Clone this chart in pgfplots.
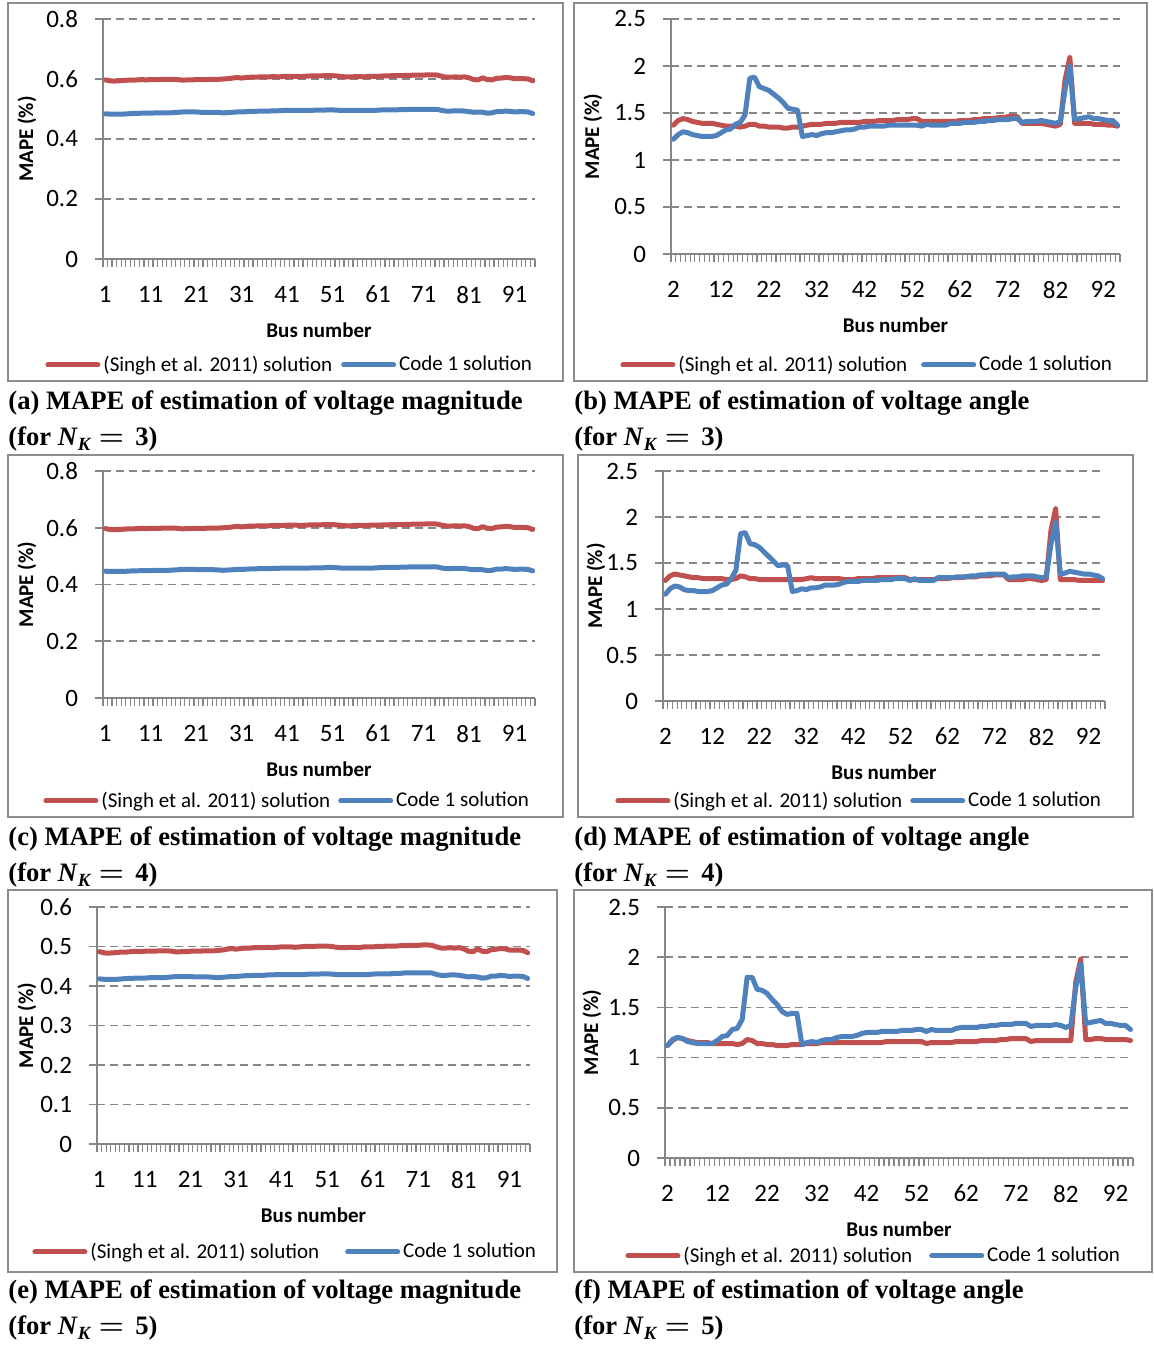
\documentclass[border=0pt]{standalone}
\usepackage{fontspec}
\setmainfont{Carlito}
\newfontfamily\capfont{Liberation Serif}
\usepackage{pgfplots}
\usepackage{pgfplotstable}
\pgfplotsset{compat=1.18}
\definecolor{sred}{RGB}{192,80,77}
\definecolor{sblue}{RGB}{79,129,189}
\definecolor{axgray}{RGB}{134,134,134}
\definecolor{framegray}{RGB}{140,140,140}

\pgfplotstableread{
bus ar ab cb er eb
1 .597 .484 .447 .487 .418
2 .594 .483 .446 .484 .417
3 .593 .483 .446 .483 .417
4 .594 .483 .446 .484 .417
5 .595 .483 .446 .485 .417
6 .596 .484 .447 .486 .418
7 .596 .485 .448 .486 .419
8 .597 .485 .448 .487 .419
9 .598 .486 .449 .488 .420
10 .597 .486 .449 .487 .420
11 .598 .486 .449 .488 .420
12 .598 .487 .450 .488 .421
13 .598 .487 .450 .488 .421
14 .599 .487 .450 .489 .421
15 .599 .487 .450 .489 .421
16 .599 .488 .451 .489 .422
17 .598 .489 .452 .488 .423
18 .596 .490 .453 .486 .424
19 .597 .490 .453 .487 .424
20 .597 .490 .453 .487 .424
21 .598 .490 .453 .488 .424
22 .598 .489 .452 .488 .423
23 .598 .489 .452 .488 .423
24 .599 .489 .452 .489 .423
25 .599 .489 .452 .489 .423
26 .599 .488 .451 .489 .422
27 .600 .487 .450 .490 .421
28 .601 .488 .451 .491 .422
29 .603 .489 .452 .493 .423
30 .605 .490 .453 .495 .424
31 .603 .490 .453 .493 .424
32 .605 .491 .454 .495 .425
33 .606 .492 .455 .496 .426
34 .606 .492 .455 .496 .426
35 .607 .493 .456 .497 .427
36 .607 .493 .456 .497 .427
37 .607 .493 .456 .497 .427
38 .608 .494 .457 .498 .428
39 .607 .494 .457 .497 .428
40 .608 .495 .458 .498 .429
41 .609 .495 .458 .499 .429
42 .609 .495 .458 .499 .429
43 .609 .495 .458 .499 .429
44 .608 .495 .458 .498 .429
45 .609 .495 .458 .499 .429
46 .610 .495 .458 .500 .429
47 .610 .496 .459 .500 .430
48 .610 .496 .459 .500 .430
49 .611 .496 .459 .501 .430
50 .611 .497 .460 .501 .431
51 .611 .497 .460 .501 .431
52 .610 .496 .459 .500 .430
53 .608 .495 .458 .498 .429
54 .607 .495 .458 .497 .429
55 .607 .495 .458 .497 .429
56 .608 .495 .458 .498 .429
57 .608 .495 .458 .498 .429
58 .607 .495 .458 .497 .429
59 .609 .495 .458 .499 .429
60 .609 .495 .458 .499 .429
61 .609 .496 .459 .499 .430
62 .610 .497 .460 .500 .431
63 .610 .497 .460 .500 .431
64 .611 .497 .460 .501 .431
65 .611 .497 .460 .501 .431
66 .611 .498 .461 .501 .432
67 .612 .498 .461 .502 .432
68 .612 .499 .462 .502 .433
69 .613 .499 .462 .503 .433
70 .613 .499 .462 .503 .433
71 .613 .499 .462 .503 .433
72 .614 .499 .462 .504 .433
73 .614 .499 .462 .504 .433
74 .613 .499 .462 .503 .433
75 .609 .495 .458 .499 .429
76 .606 .493 .456 .496 .427
77 .606 .493 .456 .496 .427
78 .607 .494 .457 .497 .428
79 .606 .494 .457 .496 .428
80 .607 .493 .456 .497 .427
81 .604 .491 .454 .494 .425
82 .598 .489 .452 .488 .423
83 .597 .490 .453 .487 .424
84 .604 .489 .452 .494 .423
85 .598 .486 .449 .488 .420
86 .597 .487 .450 .487 .421
87 .602 .491 .454 .492 .425
88 .603 .491 .454 .493 .425
89 .605 .493 .456 .495 .427
90 .604 .492 .455 .494 .426
91 .601 .490 .453 .491 .424
92 .601 .491 .454 .491 .425
93 .601 .491 .454 .491 .425
94 .600 .490 .453 .490 .424
95 .594 .485 .448 .484 .419
}\magtab

\pgfplotstableread{
bus br bb dr db fr fb
2 1.37 1.22 1.31 1.16 1.12 1.12
3 1.42 1.27 1.36 1.22 1.17 1.18
4 1.44 1.30 1.38 1.25 1.20 1.20
5 1.43 1.29 1.37 1.24 1.19 1.19
6 1.41 1.27 1.36 1.21 1.17 1.16
7 1.40 1.26 1.35 1.20 1.16 1.15
8 1.39 1.25 1.34 1.20 1.15 1.14
9 1.39 1.25 1.34 1.19 1.15 1.14
10 1.39 1.25 1.33 1.19 1.15 1.14
11 1.38 1.26 1.33 1.19 1.14 1.14
12 1.37 1.29 1.33 1.20 1.14 1.17
13 1.36 1.32 1.33 1.23 1.14 1.21
14 1.36 1.33 1.33 1.26 1.14 1.22
15 1.36 1.38 1.32 1.27 1.14 1.28
16 1.35 1.40 1.32 1.33 1.13 1.29
17 1.36 1.48 1.33 1.42 1.14 1.38
18 1.38 1.87 1.36 1.82 1.18 1.80
19 1.38 1.88 1.35 1.83 1.17 1.80
20 1.36 1.78 1.33 1.71 1.14 1.68
21 1.36 1.76 1.33 1.70 1.14 1.67
22 1.35 1.74 1.32 1.67 1.13 1.64
23 1.35 1.70 1.32 1.62 1.13 1.58
24 1.35 1.66 1.32 1.57 1.12 1.53
25 1.34 1.61 1.32 1.52 1.12 1.46
26 1.34 1.55 1.32 1.47 1.12 1.43
27 1.35 1.54 1.32 1.48 1.13 1.44
28 1.35 1.53 1.32 1.47 1.13 1.44
29 1.36 1.25 1.32 1.19 1.13 1.13
30 1.37 1.26 1.32 1.20 1.14 1.15
31 1.38 1.27 1.32 1.22 1.14 1.16
32 1.38 1.26 1.33 1.21 1.14 1.15
33 1.38 1.28 1.34 1.23 1.15 1.17
34 1.39 1.29 1.33 1.23 1.15 1.18
35 1.39 1.29 1.33 1.24 1.15 1.18
36 1.39 1.30 1.33 1.26 1.15 1.20
37 1.40 1.31 1.33 1.26 1.15 1.21
38 1.40 1.32 1.33 1.26 1.15 1.21
39 1.40 1.32 1.33 1.27 1.15 1.21
40 1.40 1.33 1.32 1.29 1.15 1.22
41 1.40 1.35 1.32 1.30 1.15 1.24
42 1.41 1.35 1.32 1.30 1.15 1.25
43 1.41 1.36 1.33 1.30 1.15 1.25
44 1.41 1.36 1.33 1.31 1.15 1.25
45 1.42 1.36 1.33 1.31 1.15 1.26
46 1.42 1.36 1.33 1.31 1.16 1.26
47 1.42 1.37 1.34 1.31 1.16 1.26
48 1.42 1.37 1.34 1.32 1.16 1.26
49 1.43 1.37 1.34 1.32 1.16 1.27
50 1.43 1.37 1.34 1.32 1.16 1.27
51 1.43 1.37 1.34 1.33 1.16 1.27
52 1.44 1.37 1.34 1.33 1.16 1.28
53 1.44 1.37 1.34 1.33 1.16 1.28
54 1.41 1.36 1.32 1.31 1.14 1.26
55 1.41 1.38 1.32 1.33 1.15 1.28
56 1.41 1.37 1.32 1.31 1.15 1.27
57 1.41 1.37 1.32 1.31 1.15 1.27
58 1.41 1.37 1.32 1.31 1.15 1.27
59 1.41 1.37 1.32 1.31 1.15 1.27
60 1.41 1.39 1.33 1.34 1.16 1.29
61 1.41 1.39 1.33 1.34 1.16 1.30
62 1.42 1.39 1.33 1.34 1.16 1.30
63 1.42 1.40 1.34 1.34 1.16 1.30
64 1.42 1.40 1.34 1.35 1.16 1.30
65 1.43 1.40 1.34 1.35 1.17 1.31
66 1.43 1.41 1.35 1.35 1.17 1.31
67 1.44 1.41 1.35 1.36 1.17 1.32
68 1.44 1.42 1.35 1.36 1.17 1.32
69 1.44 1.42 1.36 1.37 1.18 1.33
70 1.45 1.43 1.36 1.37 1.18 1.33
71 1.45 1.43 1.36 1.38 1.19 1.33
72 1.46 1.43 1.37 1.38 1.19 1.34
73 1.46 1.44 1.37 1.38 1.19 1.34
74 1.46 1.44 1.37 1.38 1.19 1.34
75 1.39 1.40 1.32 1.34 1.16 1.31
76 1.39 1.41 1.32 1.35 1.17 1.32
77 1.39 1.41 1.32 1.35 1.17 1.32
78 1.39 1.41 1.32 1.36 1.17 1.32
79 1.39 1.42 1.33 1.36 1.17 1.32
80 1.38 1.41 1.33 1.36 1.17 1.33
81 1.37 1.40 1.32 1.35 1.17 1.32
82 1.36 1.39 1.31 1.34 1.17 1.30
83 1.38 1.41 1.32 1.35 1.17 1.32
84 1.85 1.75 1.85 1.70 1.75 1.70
85 2.09 2.00 2.09 1.95 1.98 1.93
86 1.39 1.43 1.32 1.38 1.18 1.34
87 1.39 1.44 1.32 1.39 1.18 1.35
88 1.39 1.45 1.32 1.41 1.19 1.36
89 1.39 1.46 1.32 1.40 1.19 1.37
90 1.38 1.44 1.31 1.39 1.18 1.34
91 1.38 1.44 1.31 1.38 1.18 1.34
92 1.38 1.43 1.31 1.38 1.18 1.33
93 1.37 1.42 1.31 1.37 1.18 1.32
94 1.37 1.42 1.31 1.36 1.18 1.32
95 1.36 1.37 1.31 1.33 1.17 1.28
}\angtab

\pgfplotsset{
  panel/.style={
    scale only axis,
    axis lines*=left,
    axis line style={draw=axgray, line width=1pt},
    ymajorgrids,
    major grid style={draw=axgray, line width=0.8pt, dash pattern=on 4pt off 2.5pt},
    tick align=outside,
    major tick length=4pt,
    minor tick length=4pt,
    major x tick style={draw=none},
    minor x tick style={draw=axgray, line width=0.6pt},
    major y tick style={draw=axgray, line width=0.8pt},
    /pgf/number format/assume math mode=true,
    tick label style={font=\fontsize{12.5}{14}\selectfont},
    xticklabel style={yshift=-6pt},
    yticklabel style={xshift=-5pt, /pgf/number format/fixed},
    xlabel={Bus number}, ylabel={MAPE (\%)},
    every axis x label/.style={at={(rel axis cs:0.5,0)}, yshift=-35.5pt, anchor=center,
      font=\bfseries\fontsize{10.5}{12}\selectfont},
    scaled y ticks=false,
    legend columns=2,
    legend style={draw=none, fill=none, at={(rel axis cs:0,0)}, anchor=west,
      font=\fontsize{10.5}{12}\selectfont, inner sep=0pt,
      nodes={inner xsep=1pt},
      /tikz/every odd column/.append style={column sep=0.5pt}},
    legend image code/.code={\draw[#1, line width=2.5pt, line cap=round] (1.25pt,0pt) -- (26.25pt,0pt);},
    every axis plot/.append style={line width=2.5pt, line join=round, line cap=round, mark=none},
  },
  ylab/.style={every axis y label/.style={at={(rel axis cs:0,0.5)}, xshift=-#1, rotate=90, anchor=center,
      font=\bfseries\fontsize{10.5}{12}\selectfont}},
  leg/.style n args={3}{legend style={xshift=#1, yshift=#2, /tikz/every even column/.append style={column sep=#3}}},
  mag/.style={xmin=0.5, xmax=95.5, xtick={1,11,...,91}, minor xtick={0.5,1.5,...,95.5}},
  ang/.style={xmin=1.5, xmax=95.5, xtick={2,12,...,92}, minor xtick={1.5,2.5,...,95.5}, ymin=0, ymax=2.5, ytick={0,0.5,1,1.5,2,2.5}},
}

\newcommand{\capt}[4]{%
  \node[anchor=base west, inner sep=0pt, font=\capfont\bfseries\fontsize{13.3}{16}\selectfont] at (#1,#2) {#3};
  \node[anchor=base west, inner sep=0pt, font=\capfont\bfseries\fontsize{13.3}{16}\selectfont] at (#1,{#2-18pt}) {(for \textit{N}\textsubscript{\textit{K}}\ {\boldmath$=$}\ \,#4)};
}

\begin{document}
\begin{tikzpicture}
\path[use as bounding box] (0,0) rectangle (577pt,673.5pt);
% frames
\draw[framegray, line width=1pt] (4pt,483pt) rectangle (281.5pt,672pt);
\draw[framegray, line width=1pt] (287pt,483pt) rectangle (573.5pt,672pt);
\draw[framegray, line width=1pt] (4pt,265pt) rectangle (281.5pt,446pt);
\draw[framegray, line width=1pt] (289pt,265pt) rectangle (566.5pt,446pt);
\draw[framegray, line width=1pt] (4pt,37.5pt) rectangle (278.5pt,228.5pt);
\draw[framegray, line width=1pt] (287pt,37.5pt) rectangle (576pt,228.5pt);

% (a)
\begin{axis}[panel, mag, ylab=38pt, leg={-29pt}{-53pt}{3.5pt},
  at={(51.5pt,544pt)}, anchor=south west, width=216pt, height=120pt,
  ymin=0, ymax=0.8, ytick={0,0.2,0.4,0.6,0.8}]
\addplot[sred] table[x=bus,y=ar]{\magtab}; \addlegendentry{(Singh et al. 2011) solution}
\addplot[sblue] table[x=bus,y=ab]{\magtab}; \addlegendentry{Code 1 solution}
\end{axis}

% (b)
\begin{axis}[panel, ang, ylab=39pt, leg={-25.5pt}{-55.5pt}{6pt},
  at={(335.5pt,546.5pt)}, anchor=south west, width=224.5pt, height=117.5pt]
\addplot[sred] table[x=bus,y=br]{\angtab}; \addlegendentry{(Singh et al. 2011) solution}
\addplot[sblue] table[x=bus,y=bb]{\angtab}; \addlegendentry{Code 1 solution}
\end{axis}

% (c)
\begin{axis}[panel, mag, ylab=38pt, leg={-30pt}{-51.5pt}{3pt},
  at={(51.5pt,324.5pt)}, anchor=south west, width=216pt, height=113.5pt,
  ymin=0, ymax=0.8, ytick={0,0.2,0.4,0.6,0.8}]
\addplot[sred] table[x=bus,y=ar]{\magtab}; \addlegendentry{(Singh et al. 2011) solution}
\addplot[sblue] table[x=bus,y=cb]{\magtab}; \addlegendentry{Code 1 solution}
\end{axis}

% (d)
\begin{axis}[panel, ang, ylab=33.5pt, leg={-24pt}{-50pt}{3pt},
  at={(331.5pt,323pt)}, anchor=south west, width=221pt, height=115pt]
\addplot[sred] table[x=bus,y=dr]{\angtab}; \addlegendentry{(Singh et al. 2011) solution}
\addplot[sblue] table[x=bus,y=db]{\angtab}; \addlegendentry{Code 1 solution}
\end{axis}

% (e)
\begin{axis}[panel, mag, ylab=35pt, leg={-32.5pt}{-54pt}{12pt},
  at={(48.5pt,101.5pt)}, anchor=south west, width=216.5pt, height=118.5pt,
  ymin=0, ymax=0.6, ytick={0,0.1,0.2,0.3,0.4,0.5,0.6}]
\addplot[sred] table[x=bus,y=er]{\magtab}; \addlegendentry{(Singh et al. 2011) solution}
\addplot[sblue] table[x=bus,y=eb]{\magtab}; \addlegendentry{Code 1 solution}
\end{axis}

% (f)
\begin{axis}[panel, ang, ylab=36.5pt, leg={-20pt}{-49pt}{7.5pt},
  at={(332.5pt,94.5pt)}, anchor=south west, width=234pt, height=125.5pt]
\addplot[sred] table[x=bus,y=fr]{\angtab}; \addlegendentry{(Singh et al. 2011) solution}
\addplot[sblue] table[x=bus,y=fb]{\angtab}; \addlegendentry{Code 1 solution}
\end{axis}

% captions
\capt{4pt}{468.5pt}{(a) MAPE of estimation of voltage magnitude}{3}
\capt{287pt}{468.5pt}{(b) MAPE of estimation of voltage angle}{3}
\capt{4pt}{250.5pt}{(c) MAPE of estimation of voltage magnitude}{4}
\capt{287pt}{250.5pt}{(d) MAPE of estimation of voltage angle}{4}
\capt{4pt}{24pt}{(e) MAPE of estimation of voltage magnitude}{5}
\capt{287pt}{24pt}{(f) MAPE of estimation of voltage angle}{5}
\end{tikzpicture}
\end{document}
